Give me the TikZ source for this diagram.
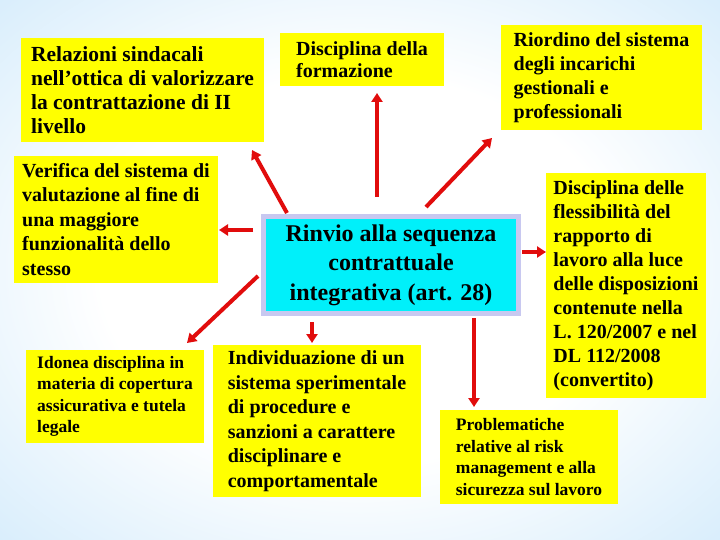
\documentclass[tikz,border=0pt]{standalone}
\usepackage{fontspec}
\setmainfont{Liberation Serif}
\usepackage{tikz}
\usetikzlibrary{arrows.meta}

\definecolor{bgblue}{RGB}{120,192,246}
\definecolor{bgmid}{RGB}{196,228,250}
\definecolor{boxyellow}{RGB}{255,255,0}
\definecolor{boxcyan}{RGB}{0,240,250}
\definecolor{boxlilac}{RGB}{200,200,240}
\definecolor{arrred}{RGB}{225,12,12}
\pgfdeclareradialshading{bgshade}{\pgfpoint{0bp}{0bp}}{color(0bp)=(white); color(18bp)=(white); color(45bp)=(bgmid); color(71bp)=(bgblue)}

\tikzset{
    box/.style={fill=boxyellow, anchor=north west, align=left, inner sep=0pt, outer sep=0pt,
        font=\bfseries\fontsize{20}{24.5}\selectfont},
    smallbox/.style={box, font=\bfseries\fontsize{17.5}{21.5}\selectfont},
    arr/.style={draw=arrred, line width=4pt, -{Triangle[width=11pt,length=9pt]}}
}

\begin{document}
\begin{tikzpicture}[x=1pt,y=-1pt]
        \useasboundingbox (0,0) rectangle (720,540);
        \shade[shading=bgshade] (0,0) rectangle (720,540);
        \node[box, minimum width=243, minimum height=104, font=\bfseries\fontsize{21.5}{24}\selectfont] (rel) at (21,38)
            {Relazioni sindacali\\nell’ottica di valorizzare\\la contrattazione di II\\livello};
        \node[box, minimum width=164, minimum height=53, font=\bfseries\fontsize{20}{22}\selectfont] (form) at (280,33)
            {Disciplina della\\formazione};
        \node[box, minimum width=201, minimum height=105, font=\bfseries\fontsize{20}{24}\selectfont] (rio) at (501,25)
            {Riordino del sistema\\degli incarichi\\gestionali e\\professionali};
        \node[box, minimum width=204, minimum height=127] (ver) at (14,156)
            {Verifica del sistema di\\valutazione al fine di\\una maggiore\\funzionalità dello\\stesso};
        \node[smallbox, minimum width=178, minimum height=93] (ido) at (26,350)
            {Idonea disciplina in\\materia di copertura\\assicurativa e tutela\\legale};
        \node[box, minimum width=208, minimum height=152] (ind) at (213,345)
            {Individuazione di un\\sistema sperimentale\\di procedure e\\sanzioni a carattere\\disciplinare e\\comportamentale};
        \node[box, minimum width=160, minimum height=225, font=\bfseries\fontsize{20}{24}\selectfont] (fle) at (546,173)
            {Disciplina delle\\flessibilità del\\rapporto di\\lavoro alla luce\\delle disposizioni\\contenute nella\\L. 120/2007 e nel\\DL 112/2008\\(convertito)};
        \node[smallbox, minimum width=178, minimum height=94] (pro) at (440,410)
            {Problematiche\\relative al risk\\management e alla\\sicurezza sul lavoro};
        \node[fill=boxcyan, draw=boxlilac, line width=5pt, outer sep=0pt, inner sep=0pt,
            minimum width=255, minimum height=97, align=center,
            font=\bfseries\fontsize{24}{29.5}\selectfont] (rinvio) at (391,265)
            {Rinvio alla sequenza\\contrattuale\\integrativa (art. 28)};
        \draw[arr] ([xshift=23.5pt,yshift=3.5pt]rinvio.north west) -- ([xshift=-12pt,yshift=-8pt]rel.south east);
        \draw[arr] ([xshift=-14pt,yshift=19.5pt]rinvio.north) -- ([xshift=15pt,yshift=-7pt]form.south);
        \draw[arr] ([xshift=35pt,yshift=9.5pt]rinvio.north) -- ([xshift=-9pt,yshift=-8pt]rio.south west);
        \draw[arr] ([xshift=-10.5pt,yshift=-13.5pt]rinvio.north west) -- ([xshift=1pt,yshift=-10.5pt]ver.east);
        \draw[arr] ([xshift=-5.5pt,yshift=-11pt]rinvio.west) -- ([xshift=-17pt,yshift=7pt]ido.north east);
        \draw[arr] ([xshift=48.5pt,yshift=-8.5pt]rinvio.south west) -- ([xshift=-5pt,yshift=2pt]ind.north);
        \draw[arr] ([xshift=3.5pt,yshift=13pt]rinvio.east) -- ([yshift=33.5pt]fle.west);
        \draw[arr] ([xshift=-44.5pt,yshift=-4.5pt]rinvio.south east) -- ([xshift=-55pt,yshift=3pt]pro.north);
    \end{tikzpicture}
\end{document}
